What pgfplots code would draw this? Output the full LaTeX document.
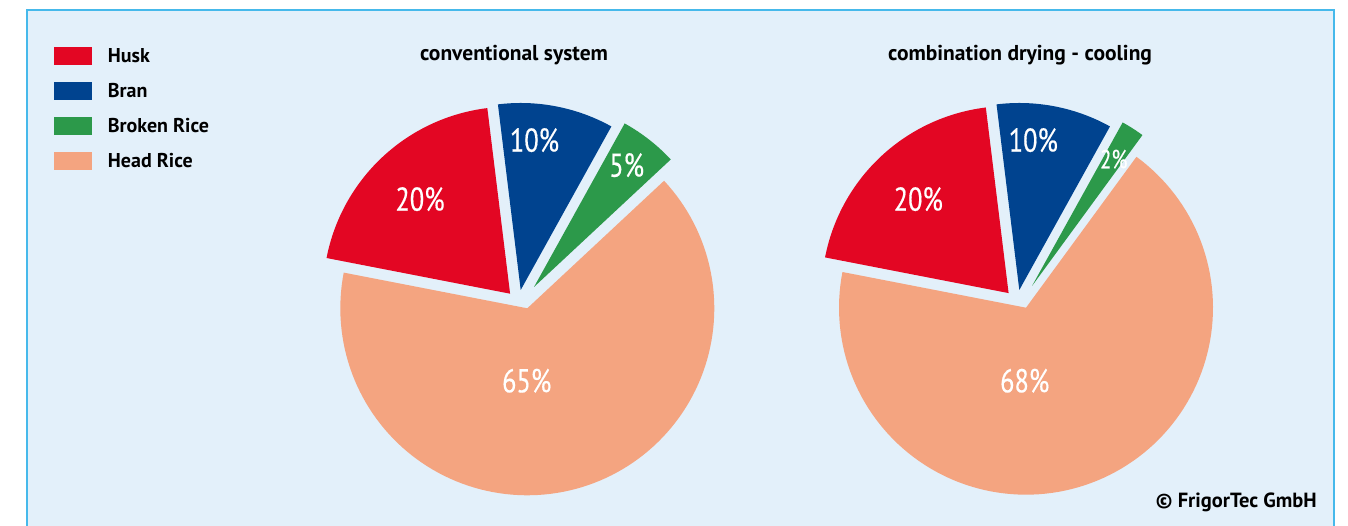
\documentclass[border=0pt]{standalone}
\usepackage{pgfplots}
\pgfplotsset{compat=1.18}
\usepackage{pgfplotstable}
\usepackage{fontspec}
\setmainfont{PT Sans}
\newfontfamily\lblfont[FakeStretch=0.8, FakeBold=0.4]{PT Sans}
\definecolor{huskred}{RGB}{227,6,35}
\definecolor{branblue}{RGB}{0,67,143}
\definecolor{brokengreen}{RGB}{44,153,74}
\definecolor{headsalmon}{RGB}{244,164,128}
\definecolor{panelbg}{RGB}{227,240,250}
\definecolor{panelline}{RGB}{70,185,235}

\pgfplotstableread{
part value
Husk 20
Bran 10
Broken 5
Head 65
}\conventional
\pgfplotstableread{
part value
Husk 20
Bran 10
Broken 2
Head 68
}\combination

% one pie slice: colour, apex x, apex y, radius, start angle, end angle
\newcommand\slice[6]{%
  \addplot[fill=#1, draw=none, forget plot, domain=#5:#6, samples=120, variable=\t]
    ({#2+#4*cos(\t)}, {#3+#4*sin(\t)}) -- (axis cs:#2,#3) -- cycle;}

\begin{document}
\begin{tikzpicture}
% read values
\pgfplotstablegetelem{0}{value}\of\conventional \let\cHusk\pgfplotsretval
\pgfplotstablegetelem{1}{value}\of\conventional \let\cBran\pgfplotsretval
\pgfplotstablegetelem{2}{value}\of\conventional \let\cBroken\pgfplotsretval
\pgfplotstablegetelem{3}{value}\of\conventional \let\cHead\pgfplotsretval
\pgfplotstablegetelem{0}{value}\of\combination \let\dHusk\pgfplotsretval
\pgfplotstablegetelem{1}{value}\of\combination \let\dBran\pgfplotsretval
\pgfplotstablegetelem{2}{value}\of\combination \let\dBroken\pgfplotsretval
\pgfplotstablegetelem{3}{value}\of\combination \let\dHead\pgfplotsretval
% slice boundaries (degrees), counter-clockwise from 169
\pgfmathsetmacro\cA{169}
\pgfmathsetmacro\cB{\cA+3.6*\cHead}
\pgfmathsetmacro\cC{\cB+3.6*\cBroken}
\pgfmathsetmacro\cD{\cC+3.6*\cBran}
\pgfmathsetmacro\cE{\cD+3.6*\cHusk}
\pgfmathsetmacro\dA{169}
\pgfmathsetmacro\dB{\dA+3.6*\dHead}
\pgfmathsetmacro\dC{\dB+3.6*\dBroken}
\pgfmathsetmacro\dD{\dC+3.6*\dBran}
\pgfmathsetmacro\dE{\dD+3.6*\dHusk}
\begin{axis}[
  x=1pt, y=1pt,
  xmin=0, xmax=1348, ymin=-526, ymax=0,
  hide axis,
  clip=true,
  legend image code/.code={\path[#1] (0pt,-9pt) rectangle (38pt,9pt);},
  legend cell align=left,
  legend style={at={(axis description cs:0.03984,0.9106)}, anchor=north west,
    draw=none, fill=none, inner sep=0pt, row sep=17pt, column sep=16pt,
    font=\bfseries\fontsize{20}{24}\selectfont, nodes={inner sep=0pt}},
]
% panel
\fill[white] (axis cs:0,0) rectangle (axis cs:1348,-526);
\fill[panelbg] (axis cs:27,-10) rectangle (axis cs:1334,-526);
\draw[panelline, line width=2pt] (axis cs:27,-526) -- (axis cs:27,-10) -- (axis cs:1334,-10) -- (axis cs:1334,-526);

% conventional system
\slice{headsalmon}{527.3}{-308.3}{187}{\cA}{\cB}
\slice{brokengreen}{534}{-287}{187}{\cB}{\cC}
\slice{branblue}{520.7}{-290}{187}{\cC}{\cD}
\slice{huskred}{510.1}{-293.7}{187}{\cD}{\cE}
% combination drying - cooling
\slice{headsalmon}{1026}{-307.7}{187}{\dA}{\dB}
\slice{brokengreen}{1032}{-286}{187}{\dB}{\dC}
\slice{branblue}{1019.3}{-290}{187}{\dC}{\dD}
\slice{huskred}{1008.6}{-293.1}{187}{\dD}{\dE}

% value labels
\begin{scope}[every node/.style={text=white, anchor=base, inner sep=0pt, font=\lblfont\fontsize{33}{36}\selectfont}]
\node at (axis cs:420,-210.7) {\cHusk\%};
\node at (axis cs:534.5,-151.7) {\cBran\%};
\node at (axis cs:626.7,-176.7) {\cBroken\%};
\node at (axis cs:526.7,-392.3) {\cHead\%};
\node at (axis cs:918.3,-210.7) {\dHusk\%};
\node at (axis cs:1033.3,-151.7) {\dBran\%};
\node[font=\lblfont\fontsize{26}{30}\selectfont] at (axis cs:1113.8,-168.3) {\dBroken\%};
\node at (axis cs:1024.7,-392.3) {\dHead\%};
\end{scope}

% titles
\node[anchor=base, inner sep=0pt, font=\bfseries\fontsize{21.5}{26}\selectfont] at (axis cs:514,-61) {conventional system};
\node[anchor=base, inner sep=0pt, font=\bfseries\fontsize{21.5}{26}\selectfont] at (axis cs:1020,-61) {combination drying - cooling};
\node[anchor=base east, inner sep=0pt, font=\bfseries\fontsize{20.5}{24}\selectfont] at (axis cs:1317,-507.3) {© FrigorTec GmbH};

% legend
\addlegendimage{fill=huskred, draw=none}
\addlegendimage{fill=branblue, draw=none}
\addlegendimage{fill=brokengreen, draw=none}
\addlegendimage{fill=headsalmon, draw=none}
\legend{Husk, Bran, Broken Rice, Head Rice}
\end{axis}
\pgfresetboundingbox
\path[use as bounding box] (current axis.south west) rectangle (current axis.north east);
\end{tikzpicture}
\end{document}
